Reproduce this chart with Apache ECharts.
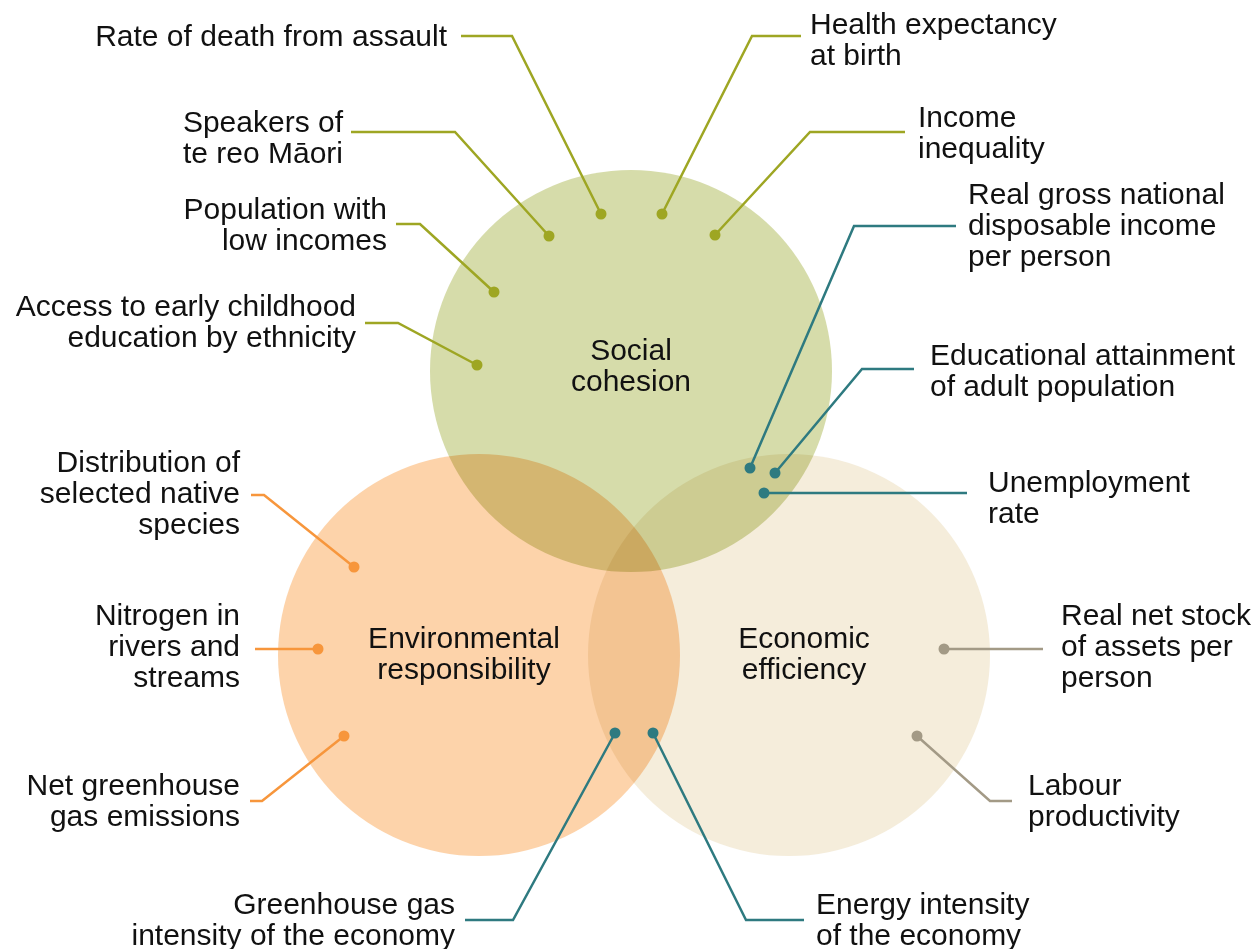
<!DOCTYPE html>
<html>
<head>
<meta charset="utf-8">
<title>Sustainable development indicators</title>
<script src="https://cdn.jsdelivr.net/npm/echarts@6/dist/echarts.min.js"></script>
<style>
  html, body { margin: 0; padding: 0; background: #fff; }
  #chart { width: 1256px; height: 949px; }
</style>
</head>
<body>
<div id="chart"></div>
<script>
// the three dimensions, positions in chart units (x right, y down)
const circleNames = ['Social\ncohesion', 'Environmental\nresponsibility', 'Economic\nefficiency']
const circleCenters = [[631, 371], [479, 655], [789, 655]]
const circleRadius = [201, 201, 201]
const circleTitlePos = [[631, 367], [464, 655], [804, 655]]
const circleColors = ['#d6dcaa', '#fdd3aa', '#f5eddb']

// indicators
const indicatorNames = [
  'Rate of death from assault',
  'Health expectancy\nat birth',
  'Speakers of\nte reo Māori',
  'Income\ninequality',
  'Population with\nlow incomes',
  'Access to early childhood\neducation by ethnicity',
  'Real gross national\ndisposable income\nper person',
  'Educational attainment\nof adult population',
  'Unemployment\nrate',
  'Greenhouse gas\nintensity of the economy',
  'Energy intensity\nof the economy',
  'Distribution of\nselected native\nspecies',
  'Nitrogen in\nrivers and\nstreams',
  'Net greenhouse\ngas emissions',
  'Real net stock\nof assets per\nperson',
  'Labour\nproductivity'
]
const indicatorGroup = [
  'social', 'social', 'social', 'social', 'social', 'social',
  'link', 'link', 'link', 'link', 'link',
  'env', 'env', 'env',
  'econ', 'econ'
]
const dotPos = [
  [601, 214], [662, 214], [549, 236], [715, 235], [494, 292], [477, 365],
  [750, 468], [775, 473], [764, 493], [615, 733], [653, 733],
  [354, 567], [318, 649], [344, 736],
  [944, 649], [917, 736]
]
const bendPos = [
  [512, 36], [752, 36], [455, 132], [810, 132], [420, 224], [398, 323],
  [854, 226], [862, 369], null, [513, 920], [746, 920],
  [264, 495], null, [262, 801],
  null, [990, 801]
]
const endPos = [
  [461, 36], [801, 36], [351, 132], [905, 132], [396, 224], [365, 323],
  [956, 226], [914, 369], [967, 493], [465, 920], [804, 920],
  [251, 495], [255, 649], [250, 801],
  [1043, 649], [1012, 801]
]
const labelPos = [
  [447, 38], [810, 41], [343, 139], [918, 134], [387, 226], [356, 323],
  [968, 227], [930, 372], [988, 499], [455, 921], [816, 921],
  [240, 495], [240, 648], [240, 802],
  [1061, 648], [1028, 802]
]
const labelSide = [
  'left', 'right', 'left', 'right', 'left', 'left',
  'right', 'right', 'right', 'left', 'right',
  'left', 'left', 'left',
  'right', 'right'
]

const groupColors = {social: '#9ea623', link: '#2e7a80', env: '#f7963c', econ: '#a39a86'}
const fontFamily = '"Liberation Sans", Arial, sans-serif'
const textColor = '#111111'

const chart = echarts.init(document.getElementById('chart'))

const circleData = circleCenters.map((c, i) => [c[0], c[1], circleRadius[i]])

const leaderData = indicatorNames.map((name, i) => {
  const coords = [dotPos[i]]
  if (bendPos[i]) coords.push(bendPos[i])
  coords.push(endPos[i])
  return {coords, lineStyle: {color: groupColors[indicatorGroup[i]]}}
})

const dotData = indicatorNames.map((name, i) => ({
  value: dotPos[i],
  itemStyle: {color: groupColors[indicatorGroup[i]]}
}))

const labelData = indicatorNames.map((name, i) => ({
  name,
  value: labelPos[i],
  label: {position: labelSide[i], align: labelSide[i] === 'left' ? 'right' : 'left'}
}))

const titleData = circleNames.map((name, i) => ({name, value: circleTitlePos[i]}))

chart.setOption({
  backgroundColor: '#ffffff',
  animation: false,
  grid: {left: 0, right: 0, top: 0, bottom: 0},
  xAxis: {type: 'value', min: 0, max: 1256, show: false},
  yAxis: {type: 'value', min: 0, max: 949, inverse: true, show: false},
  series: [
    {
      type: 'custom',
      silent: true,
      // overlapping circles darken each other like the original
      blendMode: 'multiply',
      data: circleData,
      renderItem(params, api) {
        const c = api.coord([api.value(0), api.value(1)])
        const r = api.size([api.value(2), 0])[0]
        return {
          type: 'circle',
          shape: {cx: c[0], cy: c[1], r},
          style: {fill: circleColors[params.dataIndex]}
        }
      },
      z: 1
    },
    {
      type: 'lines',
      coordinateSystem: 'cartesian2d',
      polyline: true,
      silent: true,
      lineStyle: {width: 2.5, opacity: 1},
      data: leaderData,
      z: 2
    },
    {
      type: 'scatter',
      silent: true,
      symbol: 'circle',
      symbolSize: 11,
      itemStyle: {opacity: 1},
      data: dotData,
      z: 3
    },
    {
      type: 'scatter',
      silent: true,
      symbolSize: 0,
      itemStyle: {opacity: 1},
      data: labelData,
      label: {
        show: true,
        distance: 0,
        formatter: '{b}',
        fontFamily,
        fontSize: 30,
        lineHeight: 31,
        color: textColor
      },
      z: 4
    },
    {
      type: 'scatter',
      silent: true,
      symbolSize: 0,
      itemStyle: {opacity: 1},
      data: titleData,
      label: {
        show: true,
        position: 'inside',
        align: 'center',
        verticalAlign: 'middle',
        formatter: '{b}',
        fontFamily,
        fontSize: 30,
        lineHeight: 31,
        color: textColor
      },
      z: 4
    }
  ]
})
</script>
</body>
</html>
